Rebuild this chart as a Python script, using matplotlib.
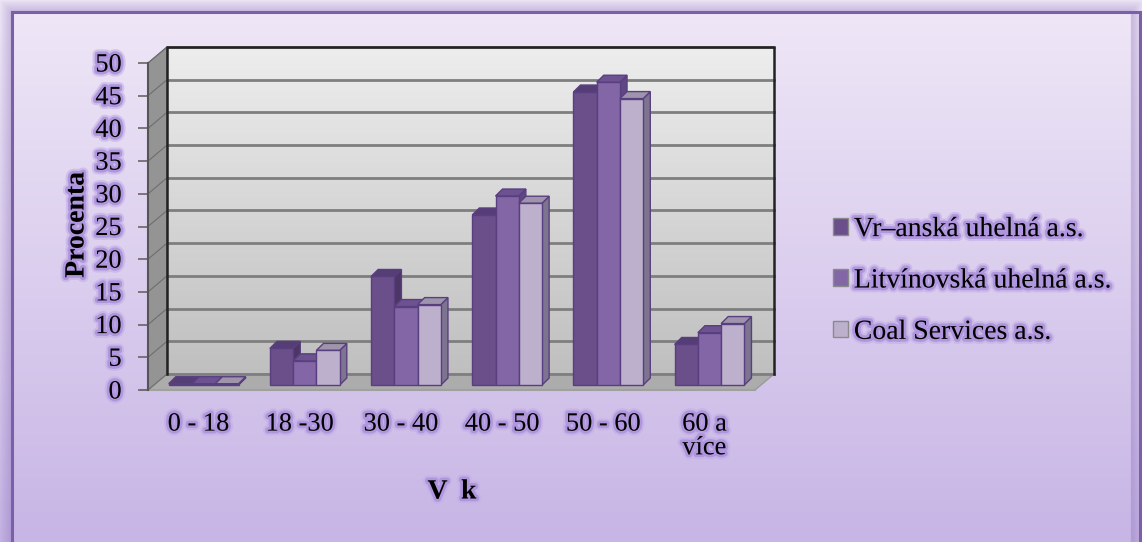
import numpy as np
import matplotlib.pyplot as plt
import matplotlib.patheffects as pe
from matplotlib.patches import Polygon, Rectangle, Patch

plt.rcParams['font.family'] = ['Liberation Serif', 'DejaVu Serif']

categories = ['0 - 18', '18 -30', '30 - 40', '40 - 50', '50 - 60', '60 a\nvíce']
series_names = ['Vr–anská uhelná a.s.', 'Litvínovská uhelná a.s.', 'Coal Services a.s.']
vrsanska = [0.2, 5.6, 16.6, 26.0, 44.8, 6.2]
litvinovska = [0.2, 3.7, 12.0, 28.9, 46.3, 8.0]
coal = [0.2, 5.3, 12.3, 27.8, 43.8, 9.4]
yticks = list(range(0, 51, 5))

front_cols = ['#6a4f8a', '#8366a6', '#bcb0cc']
side_cols = ['#4b3666', '#5f4783', '#7d7590']
top_cols = ['#553d75', '#6c5290', '#9e95ad']
edge = '#5a3f80'

W, H = 1142, 542
fig = plt.figure(figsize=(W / 100, H / 100), dpi=100)

# background gradient + frame
bg = fig.add_axes([0, 0, 1, 1], zorder=-10)
bg.axis('off')
t = np.linspace(0, 1, 256)[:, None] * np.ones((1, 2))
c_top = np.array([0.94, 0.91, 0.97])
c_bot = np.array([0.78, 0.71, 0.90])
grad = c_top[None, None, :] * (1 - t[..., None]) + c_bot[None, None, :] * t[..., None]
bg.imshow(grad, extent=[0, 1, 0, 1], aspect='auto', origin='upper')
bg.set_xlim(0, 1)
bg.set_ylim(0, 1)
# soft shadow on outer edges
for k in range(12):
    a = 0.05
    bg.add_patch(Rectangle((k / W, -0.1), 1 - 2 * k / W, 1.1 - k / H, fill=False,
                           ec='#8a6fb8', lw=1.0, alpha=a * (k + 1) / 2,
                           transform=bg.transAxes))
bg.add_patch(Rectangle((12 / W, -0.1), (1140 - 12) / W, 1.1 - 12 / H, fill=False,
                       ec='#7b5fa8', lw=2.2, transform=bg.transAxes))

ax = fig.add_axes([148 / W, (H - 390) / H, 607 / W, 327 / H])
ax.set_xlim(0, 6)
ax.set_ylim(0, 50)
ax.patch.set_alpha(0)

dx, dy = 0.188, 2.45      # wall depth
bdx, bdy = 0.05, 0.76     # bar front offset
ddx, ddy = 0.07, 1.07     # bar depth
w = 0.23

# back wall gradient
wall = np.linspace(0, 1, 256)[:, None] * np.ones((1, 2))
wt = np.array([0.93, 0.93, 0.93])
wb = np.array([0.75, 0.75, 0.75])
wg = wt[None, None, :] * (1 - wall[..., None]) + wb[None, None, :] * wall[..., None]
ax.imshow(wg, extent=[dx, 6 + dx, dy, 50 + dy], aspect='auto', origin='upper',
          clip_on=False, zorder=0)
# left wall
ax.add_patch(Polygon([(0, 0), (dx, dy), (dx, 50 + dy), (0, 50)], closed=True,
                     fc='#949494', ec='#6a6a6a', lw=0.8, clip_on=False, zorder=0.5))
# floor
ax.add_patch(Polygon([(0, 0), (6, 0), (6 + dx, dy), (dx, dy)], closed=True,
                     fc='#acacac', ec='#9a9a9a', lw=1.0, clip_on=False, zorder=0.5))
ax.plot([-0.07, 6], [0, 0], color='#a0a0a0', lw=1.5, clip_on=False, zorder=0.6)

# gridlines on back wall and left wall
for v in yticks:
    ax.plot([dx, 6 + dx], [v + dy, v + dy], color='#7e7e7e', lw=2.0,
            clip_on=False, zorder=1)
    ax.plot([0, dx], [v, v + dy], color='#6e6e6e', lw=0.8, clip_on=False, zorder=1)
ax.plot([dx, dx, 6 + dx, 6 + dx], [dy, 50 + dy, 50 + dy, dy], color='#222222',
        lw=1.8, clip_on=False, zorder=1.2)

# bars
series = [vrsanska, litvinovska, coal]
for i in range(len(categories)):
    x0 = i + 0.5 - 1.5 * w + bdx
    for j, vals in enumerate(series):
        v = vals[i]
        xl = x0 + j * w
        xr = xl + w
        yb = bdy
        yt = bdy + v
        z = 2 + i * 0.1 + j * 0.01
        ax.add_patch(Polygon([(xr, yb), (xr + ddx, yb + ddy), (xr + ddx, yt + ddy), (xr, yt)],
                             closed=True, fc=side_cols[j], ec=edge, lw=1.0,
                             clip_on=False, zorder=z))
        ax.add_patch(Polygon([(xl, yt), (xl + ddx, yt + ddy), (xr + ddx, yt + ddy), (xr, yt)],
                             closed=True, fc=top_cols[j], ec=edge, lw=1.0,
                             clip_on=False, zorder=z))
        ax.add_patch(Rectangle((xl, yb), w, v, fc=front_cols[j], ec=edge, lw=1.0,
                               clip_on=False, zorder=z + 0.001))

glow = [pe.withStroke(linewidth=7, foreground='#c2aee6', alpha=0.6),
        pe.withStroke(linewidth=4, foreground='#ad93dc', alpha=0.9)]

for s in ['top', 'right', 'bottom']:
    ax.spines[s].set_visible(False)
ax.spines['left'].set_color('#555555')
ax.spines['left'].set_linewidth(1.5)
ax.spines['left'].set_zorder(3)
ax.set_yticks(yticks)
ax.tick_params(axis='y', length=7, width=1.2, color='#666666', pad=12,
               labelsize=19)
ax.set_xticks(np.arange(len(categories)) + 0.5)
ax.set_xticklabels(categories, linespacing=1.1)
ax.tick_params(axis='x', length=0, pad=17, labelsize=19)
for lab in ax.get_yticklabels() + ax.get_xticklabels():
    lab.set_path_effects(glow)

fig.text(77 / W, 1 - 225 / H, 'Procenta', rotation=90, ha='center', va='center',
         fontsize=20, fontweight='bold', path_effects=glow)
fig.text(452 / W, 1 - 492 / H, 'V  k', ha='center', va='center',
         fontsize=20, fontweight='bold', path_effects=glow)

handles = [Patch(fc=front_cols[j], ec='#8a8a8a', lw=1.0) for j in range(3)]
leg = fig.legend(handles, series_names, loc='center left',
                 bbox_to_anchor=(808 / W, 1 - 281 / H), frameon=False,
                 fontsize=20, handlelength=0.55, handleheight=0.55,
                 handletextpad=0.2, labelspacing=0.95)
for txt in leg.get_texts():
    txt.set_path_effects(glow)

fig.savefig('out.png', dpi=100)
plt.close('all')
